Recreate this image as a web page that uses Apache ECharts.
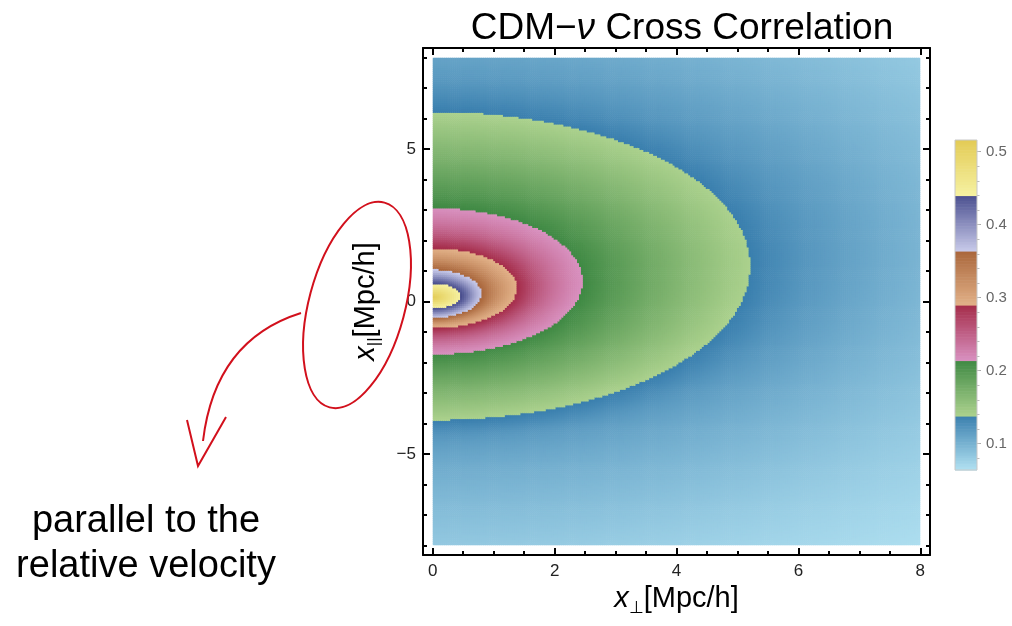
<!DOCTYPE html>
<html>
<head>
<meta charset="utf-8">
<script src="https://cdn.jsdelivr.net/npm/echarts@6/dist/echarts.min.js"></script>
<style>
  html, body { margin: 0; padding: 0; background: #ffffff; }
  #chart { width: 1012px; height: 626px; }
</style>
</head>
<body>
<div id="chart"></div>
<script>
// Contour levels of the CDM–neutrino cross correlation, and the ellipse each
// level traces in the (x_perp, x_par) plane: centre on the x_par axis and
// the two semi-axes, in Mpc/h. Between levels the field is filled in along
// a smooth family of nested ellipses.
const levels   = [0.516, 0.44, 0.365, 0.29, 0.215, 0.139, 0.11, 0.085, 0.07, 0.055];
const centerY  = [0.15, 0.20, 0.27, 0.45, 0.68, 1.18, 1.60, 2.00, 2.20, 2.30];
const semiPerp = [0.00, 0.47, 0.80, 1.38, 2.46, 5.21, 7.00, 9.60, 12.5, 16.0];
const semiPar  = [0.00, 0.41, 0.79, 1.31, 2.40, 5.06, 6.60, 9.80, 12.3, 16.0];

// Colour bands of the legend: band edges, colour at the low end, colour at the high end
const bandEdges = [0.064, 0.139, 0.215, 0.290, 0.365, 0.441, 0.516];
const bandLight = ['#b2e2f2', '#abd18d', '#d890bf', '#e2b188', '#c7c9e9', '#f6f1a1'];
const bandDark  = ['#3a7fae', '#3f8944', '#a52d4a', '#a9663b', '#4a4f8f', '#e3cc56'];

// Axis ticks
const xTicks = [0, 2, 4, 6, 8];
const yTicks = [-5, 0, 5];
const barTicks = [0.1, 0.2, 0.3, 0.4, 0.5];

const xMinor = [];
for (let v = 0; v <= 8.0001; v += 0.5) xMinor.push(+v.toFixed(2));
const yMinor = [];
for (let v = -8; v <= 8; v += 1) yMinor.push(v);
const barMinor = [];
for (let v = 0.08; v <= 0.5001; v += 0.02) barMinor.push(+v.toFixed(2));

// Plot domain and cell size
const X_MIN = 0, X_MAX = 8, Y_MIN = -8, Y_MAX = 8;
const DX = 0.032, DY = 0.064;

// monotone cubic (Fritsch–Carlson) slopes on unit-spaced knots
function monoSlopes(ys) {
  const n = ys.length, d = [], m = new Array(n);
  for (let i = 0; i < n - 1; i++) d.push(ys[i + 1] - ys[i]);
  m[0] = d[0]; m[n - 1] = d[n - 2];
  for (let i = 1; i < n - 1; i++) m[i] = d[i - 1] * d[i] <= 0 ? 0 : (d[i - 1] + d[i]) / 2;
  for (let i = 0; i < n - 1; i++) {
    if (d[i] === 0) { m[i] = 0; m[i + 1] = 0; continue; }
    const a = m[i] / d[i], b = m[i + 1] / d[i], s = a * a + b * b;
    if (s > 9) { const tau = 3 / Math.sqrt(s); m[i] = tau * a * d[i]; m[i + 1] = tau * b * d[i]; }
  }
  return m;
}
function hermite(ys, ms, t) {
  const n = ys.length;
  const i = Math.min(Math.floor(t), n - 2);
  const f = t - i, f2 = f * f, f3 = f2 * f;
  return (2 * f3 - 3 * f2 + 1) * ys[i] + (f3 - 2 * f2 + f) * ms[i] +
         (-2 * f3 + 3 * f2) * ys[i + 1] + (f3 - f2) * ms[i + 1];
}
const mLev = monoSlopes(levels), mCy = monoSlopes(centerY);
const mA = monoSlopes(semiPerp), mB = monoSlopes(semiPar);

function ellipseAt(t) {
  return {
    cy: hermite(centerY, mCy, t),
    a: hermite(semiPerp, mA, t),
    b: hermite(semiPar, mB, t),
    v: hermite(levels, mLev, t)
  };
}

function inside(x, y, t) {
  const e = ellipseAt(t);
  if (e.a <= 0 || e.b <= 0) return false;
  const u = x / e.a, w = (y - e.cy) / e.b;
  return u * u + w * w <= 1;
}

// value of the correlation at (x, y): the level whose ellipse passes through the point
function fieldAt(x, y) {
  const n = levels.length;
  let lo = 0, hi = n - 1;
  if (!inside(x, y, hi)) return levels[n - 1];
  for (let k = 0; k < 30; k++) {
    const mid = (lo + hi) / 2;
    if (inside(x, y, mid)) hi = mid; else lo = mid;
  }
  return ellipseAt(hi).v;
}

function lerp(a, b, f) { return a + (b - a) * f; }
function hexToRgb(h) {
  return [parseInt(h.slice(1, 3), 16), parseInt(h.slice(3, 5), 16), parseInt(h.slice(5, 7), 16)];
}
const lightRgb = bandLight.map(hexToRgb);
const darkRgb = bandDark.map(hexToRgb);

function colorOf(v) {
  let k = 0;
  while (k < bandEdges.length - 2 && v > bandEdges[k + 1]) k++;
  let f = (v - bandEdges[k]) / (bandEdges[k + 1] - bandEdges[k]);
  f = Math.max(0, Math.min(1, f));
  const c0 = lightRgb[k], c1 = darkRgb[k];
  const r = Math.round(lerp(c0[0], c1[0], f));
  const g = Math.round(lerp(c0[1], c1[1], f));
  const b = Math.round(lerp(c0[2], c1[2], f));
  return 'rgb(' + r + ',' + g + ',' + b + ')';
}

// density cells
const cells = [];
const nx = Math.round((X_MAX - X_MIN) / DX), ny = Math.round((Y_MAX - Y_MIN) / DY);
for (let i = 0; i < nx; i++) {
  const x = X_MIN + (i + 0.5) * DX;
  for (let j = 0; j < ny; j++) {
    const y = Y_MIN + (j + 0.5) * DY;
    cells.push([x, y, fieldAt(x, y)]);
  }
}

// legend bar cells
const BAR_STEP = 0.002;
const barCells = [];
for (let v = bandEdges[0] + BAR_STEP / 2; v < bandEdges[bandEdges.length - 1]; v += BAR_STEP) {
  barCells.push([0.5, v]);
}

const FONT = '"Liberation Sans", Arial, Helvetica, sans-serif';
const RED = '#d2101c';

function minusFmt(v) { return v < 0 ? '\u2212' + Math.abs(v) : String(v); }

const frameLine = { show: true, onZero: false, lineStyle: { color: '#000', width: 2 } };
const noLine = { show: false, onZero: false };
function majorTick(vals) {
  return { show: true, inside: true, length: 7, customValues: vals, lineStyle: { color: '#000', width: 2 } };
}
function minorTick(vals) {
  return { show: true, inside: true, length: 4, customValues: vals, lineStyle: { color: '#000', width: 2 } };
}
const common = { type: 'value', splitLine: { show: false }, axisLabel: { show: false } };

const nameRich = {
  i: { fontFamily: FONT, fontSize: 29, fontStyle: 'italic', color: '#000', lineHeight: 34 },
  s: { fontFamily: FONT, fontSize: 17, color: '#000', verticalAlign: 'bottom', lineHeight: 34 },
  n: { fontFamily: FONT, fontSize: 29, color: '#000', lineHeight: 34 }
};

const option = {
  animation: false,
  backgroundColor: '#ffffff',
  title: {
    text: '{a|CDM\u2212}{b|\u03bd}{a| Cross Correlation}',
    left: 677,
    top: 2,
    textAlign: 'center',
    textStyle: {
      fontWeight: 'normal',
      rich: {
        a: { fontFamily: FONT, fontSize: 37, fontWeight: 'normal', color: '#000', lineHeight: 44 },
        b: { fontFamily: FONT, fontSize: 37, fontWeight: 'normal', color: '#000', fontStyle: 'italic', lineHeight: 44 }
      }
    }
  },
  grid: [
    { left: 423, right: 82, top: 48, bottom: 71, outerBoundsMode: 'none' },
    { left: 955, width: 22, top: 140, height: 330, outerBoundsMode: 'none' }
  ],
  xAxis: [
    Object.assign({}, common, {
      gridIndex: 0, position: 'bottom', min: -0.16, max: 8.16,
      axisLine: frameLine, axisTick: majorTick(xTicks),
      axisLabel: { show: true, customValues: xTicks, fontFamily: FONT, fontSize: 17, color: '#222', margin: 8 },
      name: '{i|x}{s|\u22a5}{n|[Mpc/h]}',
      nameLocation: 'middle', nameGap: 26,
      nameTextStyle: { rich: nameRich }
    }),
    Object.assign({}, common, {
      gridIndex: 0, position: 'bottom', min: -0.16, max: 8.16,
      axisLine: noLine, axisTick: minorTick(xMinor)
    }),
    Object.assign({}, common, {
      gridIndex: 0, position: 'top', min: -0.16, max: 8.16,
      axisLine: frameLine, axisTick: majorTick(xTicks)
    }),
    Object.assign({}, common, {
      gridIndex: 0, position: 'top', min: -0.16, max: 8.16,
      axisLine: noLine, axisTick: minorTick(xMinor)
    }),
    {
      type: 'value', gridIndex: 1, min: 0, max: 1, show: false
    }
  ],
  yAxis: [
    Object.assign({}, common, {
      gridIndex: 0, position: 'left', min: -8.32, max: 8.32,
      axisLine: frameLine, axisTick: majorTick(yTicks),
      axisLabel: { show: true, customValues: yTicks, formatter: minusFmt, fontFamily: FONT, fontSize: 17, color: '#222', margin: 7 },
      name: '{i|x}{s|||}{n|[Mpc/h]}',
      nameLocation: 'middle', nameGap: 40,
      nameTextStyle: { rich: nameRich }
    }),
    Object.assign({}, common, {
      gridIndex: 0, position: 'left', min: -8.32, max: 8.32,
      axisLine: noLine, axisTick: minorTick(yMinor)
    }),
    Object.assign({}, common, {
      gridIndex: 0, position: 'right', min: -8.32, max: 8.32,
      axisLine: frameLine, axisTick: majorTick(yTicks)
    }),
    Object.assign({}, common, {
      gridIndex: 0, position: 'right', min: -8.32, max: 8.32,
      axisLine: noLine, axisTick: minorTick(yMinor)
    }),
    {
      type: 'value', gridIndex: 1, position: 'right',
      min: bandEdges[0], max: bandEdges[bandEdges.length - 1],
      splitLine: { show: false },
      axisLine: noLine,
      axisTick: { show: true, length: 4, customValues: barTicks, lineStyle: { color: '#aaa', width: 1 } },
      axisLabel: { show: true, customValues: barTicks, formatter: v => v.toFixed(1), fontFamily: FONT, fontSize: 15, color: '#666', margin: 9 }
    },
    {
      type: 'value', gridIndex: 1, position: 'right',
      min: bandEdges[0], max: bandEdges[bandEdges.length - 1],
      splitLine: { show: false },
      axisLine: noLine,
      axisLabel: { show: false },
      axisTick: { show: true, length: 2.5, customValues: barMinor, lineStyle: { color: '#bbb', width: 1 } }
    }
  ],
  series: [
    {
      type: 'custom',
      xAxisIndex: 0, yAxisIndex: 0,
      data: cells,
      encode: { x: 0, y: 1 },
      silent: true,
      progressive: 0,
      progressiveThreshold: 10000000,
      renderItem: function (params, api) {
        const x = api.value(0), y = api.value(1), v = api.value(2);
        const p0 = api.coord([x - DX / 2, y + DY / 2]);
        const p1 = api.coord([x + DX / 2, y - DY / 2]);
        const lastCol = x + DX > X_MAX;
        const lastRow = y - DY < Y_MIN;
        return {
          type: 'rect',
          shape: {
            x: p0[0], y: p0[1],
            width: p1[0] - p0[0] + (lastCol ? 0 : 0.6),
            height: p1[1] - p0[1] + (lastRow ? 0 : 0.6)
          },
          style: { fill: colorOf(v) }
        };
      }
    },
    {
      type: 'custom',
      xAxisIndex: 4, yAxisIndex: 4,
      data: barCells,
      encode: { x: 0, y: 1 },
      silent: true,
      progressive: 0,
      renderItem: function (params, api) {
        const v = api.value(1);
        const p0 = api.coord([0, v + BAR_STEP / 2]);
        const p1 = api.coord([1, v - BAR_STEP / 2]);
        return {
          type: 'rect',
          shape: { x: p0[0], y: p0[1], width: p1[0] - p0[0], height: p1[1] - p0[1] + 0.6 },
          style: { fill: colorOf(v) }
        };
      }
    }
  ],
  graphic: [
    {
      type: 'rect', z: 10, silent: true,
      shape: { x: 955, y: 140, width: 22, height: 330 },
      style: { fill: 'none', stroke: '#c8c8c8', lineWidth: 1 }
    },
    {
      type: 'ellipse', z: 10, silent: true,
      x: 357, y: 305, rotation: -15 * Math.PI / 180,
      shape: { cx: 0, cy: 0, rx: 48, ry: 106 },
      style: { fill: 'none', stroke: RED, lineWidth: 2 }
    },
    {
      type: 'bezierCurve', z: 10, silent: true,
      shape: { x1: 301, y1: 313, cpx1: 215, cpy1: 340, x2: 203, y2: 441 },
      style: { fill: 'none', stroke: RED, lineWidth: 2 }
    },
    {
      type: 'polyline', z: 10, silent: true,
      shape: { points: [[187, 420], [198, 466], [226, 417]] },
      style: { fill: 'none', stroke: RED, lineWidth: 2 }
    },
    {
      type: 'text', z: 10, silent: true,
      x: 146, y: 499,
      style: {
        text: 'parallel to the\nrelative velocity',
        font: '38px ' + FONT,
        fill: '#000',
        textAlign: 'center',
        textVerticalAlign: 'top',
        lineHeight: 45
      }
    }
  ]
};

const chart = echarts.init(document.getElementById('chart'), null, { renderer: 'canvas' });
chart.setOption(option);
</script>
</body>
</html>
